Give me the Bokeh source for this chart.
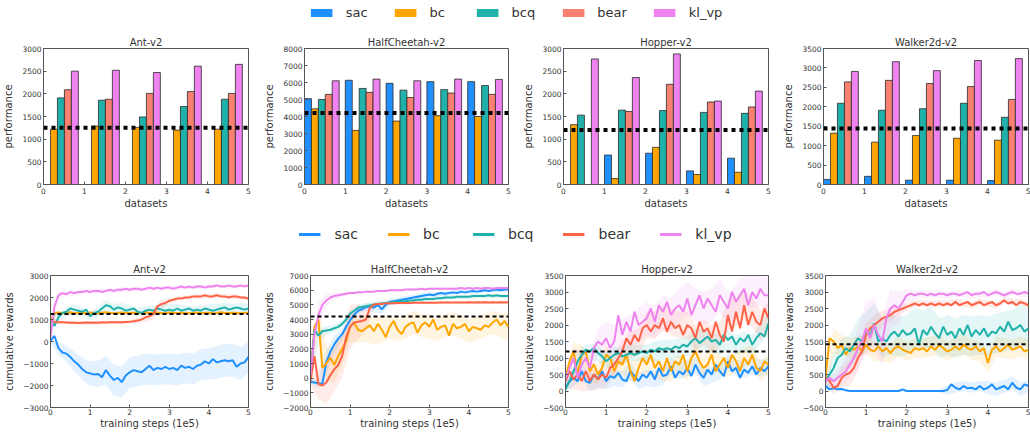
from bokeh.plotting import figure
from bokeh.models import Range1d, FixedTicker, Span, Legend, LegendItem
from bokeh.layouts import column, row
from bokeh.embed import file_html
from bokeh.resources import INLINE

FONT = "DejaVu Sans"
TXT = "#333333"
EDGE = "#555555"

methods = ["sac", "bc", "bcq", "bear", "kl_vp"]
bar_colors = ["#1E90FF", "#FFA500", "#20B2AA", "#FA8072", "#EE82EE"]
line_colors = ["#1E90FF", "#FFA500", "#20B2AA", "#FF6347", "#EE82EE"]
envs = ["Ant-v2", "HalfCheetah-v2", "Hopper-v2", "Walker2d-v2"]

# ---------------- bar charts (performance per dataset) ----------------
dataset_ids = [0, 1, 2, 3, 4]
x_ticks = [0, 1, 2, 3, 4, 5]

ant_bars = [[-800, -1000, -900, -1100, -700],
            [1220, 1290, 1260, 1200, 1220],
            [1910, 1860, 1490, 1720, 1880],
            [2090, 1880, 2010, 2050, 2010],
            [2500, 2520, 2470, 2610, 2650]]
hc_bars = [[5050, 6130, 5950, 6050, 6050],
           [4450, 3180, 3730, 4050, 4000],
           [5000, 5650, 5550, 5580, 5820],
           [5300, 5420, 5120, 5380, 5300],
           [6100, 6200, 6100, 6200, 6180]]
hop_bars = [[0, 650, 690, 300, 580],
            [1320, 130, 820, 220, 270],
            [1530, 1640, 1630, 1590, 1570],
            [0, 1610, 2210, 1820, 1710],
            [2770, 2360, 2880, 1840, 2060]]
wk_bars = [[130, 210, 110, 110, 100],
           [1320, 1090, 1260, 1190, 1140],
           [2090, 1910, 1950, 2090, 1730],
           [2640, 2680, 2600, 2520, 2190],
           [2910, 3160, 2930, 3190, 3240]]

bar_baselines = [1250, 4200, 1200, 1440]
bar_yranges = [(0, 3000), (0, 8000), (0, 3000), (0, 3500)]
bar_yticks_ant = [0, 500, 1000, 1500, 2000, 2500, 3000]
bar_yticks_hc = [0, 1000, 2000, 3000, 4000, 5000, 6000, 7000, 8000]
bar_yticks_hop = [0, 500, 1000, 1500, 2000, 2500, 3000]
bar_yticks_wk = [0, 500, 1000, 1500, 2000, 2500, 3000, 3500]

# ---------------- learning curves ----------------
steps = [i / 10 for i in range(51)]  # training steps (1e5)

ant_sac = [50, 250, -300, -500, -550, -700, -900, -1050, -1250, -1400,
           -1450, -1500, -1480, -1620, -1300, -1550, -1750, -1650, -1850, -1550,
           -1400, -1300, -1350, -1400, -1250, -1100, -1300, -1200, -1250, -1150,
           -1250, -1200, -1300, -1100, -1200, -1150, -1250, -1100, -1050, -900,
           -1000, -800, -950, -900, -850, -900, -850, -1150, -1000, -950, -700]
ant_bc = [900, 1300, 1320, 1280, 1300, 1330, 1290, 1310, 1300, 1280,
          1320, 1300, 1290, 1310, 1330, 1300, 1280, 1300, 1320, 1290,
          1300, 1310, 1280, 1300, 1330, 1300, 1290, 1310, 1300, 1280,
          1320, 1300, 1290, 1310, 1300, 1280, 1300, 1320, 1290, 1300,
          1310, 1280, 1300, 1330, 1300, 1290, 1310, 1300, 1280, 1300, 1310]
ant_bcq = [1000, 700, 1100, 1300, 1350, 1500, 1450, 1400, 1350, 1450,
           1150, 1300, 1350, 1500, 1650, 1600, 1450, 1550, 1500, 1400,
           1450, 1500, 1350, 1300, 1400, 1450, 1400, 1500, 1450, 1400,
           1450, 1400, 1500, 1400, 1450, 1500, 1400, 1450, 1400, 1500,
           1450, 1400, 1450, 1500, 1550, 1450, 1500, 1550, 1500, 1450, 1500]
ant_bear = [950, 900, 880, 870, 860, 850, 850, 840, 850, 860,
            850, 860, 850, 870, 860, 870, 880, 870, 880, 890,
            900, 920, 950, 1000, 1100, 1150, 1250, 1600, 1700, 1750,
            1850, 1900, 1950, 1950, 2000, 2000, 2050, 2050, 2050, 2100,
            2050, 2050, 2100, 2050, 2050, 2000, 2050, 2050, 2000, 2000, 1950]
ant_kl = [200, 1600, 2100, 2200, 2150, 2250, 2200, 2250, 2250, 2300,
          2250, 2300, 2300, 2250, 2300, 2350, 2300, 2350, 2350, 2400,
          2350, 2400, 2400, 2350, 2400, 2450, 2400, 2450, 2400, 2450,
          2450, 2400, 2450, 2500, 2450, 2500, 2450, 2500, 2500, 2450,
          2500, 2500, 2550, 2500, 2500, 2550, 2500, 2500, 2550, 2500, 2550]

hc_sac = [-250, -300, -350, -400, 1100, 1800, 2300, 2700, 3000, 3500,
          3950, 4300, 4600, 4700, 4850, 4900, 4800, 5000, 4700, 5000,
          5200, 5250, 5300, 5350, 5400, 5450, 5500, 5550, 5600, 5650,
          5700, 5650, 5750, 5800, 5750, 5800, 5850, 5800, 5900, 5850,
          5900, 5950, 5900, 5950, 6000, 5950, 6000, 6050, 6000, 6050, 6050]
hc_bc = [0, 3500, 4000, 700, 1000, 1400, 900, 1500, 2000, 2500,
         3500, 3800, 3300, 3200, 3400, 3600, 3200, 3700, 3300, 2800,
         3500, 3900, 3300, 3000, 3500, 3700, 3800, 3100, 3600, 3800,
         3500, 4000, 3300, 3500, 3600, 2900, 3700, 3400, 3500, 3700,
         3200, 3500, 3400, 3300, 3600, 3500, 3800, 4000, 3600, 3900, 3500]
hc_bcq = [0, 3300, 2900, 3200, 3250, 3300, 3400, 3500, 3700, 4000,
          4400, 4600, 4800, 4850, 4900, 4950, 5000, 5050, 5100, 5100,
          5150, 5200, 5200, 5250, 5250, 5300, 5300, 5350, 5350, 5400,
          5400, 5400, 5450, 5450, 5500, 5500, 5500, 5550, 5550, 5550,
          5550, 5600, 5600, 5600, 5600, 5650, 5600, 5650, 5600, 5600, 5600]
hc_bear = [-200, 1500, -400, -500, -300, 200, 600, 900, 1500, 2800,
           3500, 3800, 3850, 3900, 4000, 4800, 5000, 5050, 5050, 5100,
           5100, 5100, 5120, 5120, 5130, 5130, 5150, 5150, 5150, 5150,
           5150, 5150, 5150, 5160, 5160, 5160, 5160, 5160, 5160, 5160,
           5170, 5160, 5170, 5160, 5170, 5160, 5170, 5160, 5170, 5160, 5170]
hc_kl = [200, 3000, 4300, 5000, 5300, 5500, 5600, 5650, 5700, 5750,
         5800, 5800, 5850, 5850, 5900, 5900, 5900, 5950, 5950, 5950,
         6000, 6000, 6000, 6000, 6050, 6050, 6050, 6050, 6100, 6050,
         6100, 6100, 6100, 6100, 6100, 6100, 6100, 6100, 6150, 6100,
         6150, 6100, 6150, 6100, 6150, 6150, 6100, 6150, 6150, 6150, 6150]

hop_sac = [100, 300, 400, 300, 600, 300, 250, 500, 350, 600,
           300, 450, 400, 550, 350, 300, 600, 450, 300, 500,
           400, 600, 350, 700, 450, 500, 750, 400, 600, 500,
           700, 450, 800, 550, 400, 650, 500, 800, 600, 450,
           900, 600, 700, 400, 650, 550, 750, 500, 700, 600, 750]
hop_bc = [400, 900, 1200, 500, 1100, 1200, 600, 800, 500, 700,
          1100, 1000, 600, 900, 800, 1100, 600, 300, 700, 1000,
          800, 1100, 700, 900, 600, 1000, 600, 900, 800, 1100,
          600, 1000, 1200, 900, 700, 800, 1100, 600, 800, 1000,
          700, 1100, 900, 600, 1000, 800, 1100, 700, 600, 900, 800]
hop_bcq = [50, 300, 600, 900, 1100, 1250, 1200, 1300, 1150, 1050,
           900, 1000, 1100, 1150, 1050, 1100, 1150, 1100, 1150, 1200,
           1150, 1250, 1200, 1300, 1250, 1300, 1250, 1350, 1300, 1400,
           1350, 1500, 1600, 1450, 1550, 1650, 1500, 1550, 1400, 1700,
           1550, 1650, 1400, 1600, 1500, 1700, 1400, 1600, 1750, 1650, 2050]
hop_bear = [300, 600, 350, 500, 300, 600, 300, 500, 350, 500,
            400, 700, 800, 1000, 1200, 1600, 1400, 1700, 1500, 1900,
            2000, 1800, 2000, 1900, 2200, 1800, 2100, 1900, 2000, 1700,
            2000, 1900, 1600, 2100, 1800, 1900, 1600, 2100, 1700, 1500,
            2300, 1800, 2400, 1900, 2600, 2000, 2400, 2100, 2000, 2500, 2200]
hop_kl = [370, 700, 1000, 400, 800, 1000, 700, 1300, 1500, 1400,
          1600, 1300, 1500, 2300, 1700, 2100, 1800, 2400, 2000, 2100,
          2200, 2500, 2100, 2600, 2400, 2700, 2300, 2500, 2600, 2400,
          2800, 2300, 2600, 2900, 2500, 2800, 2600, 2400, 2900, 2700,
          2500, 3000, 2700, 2900, 3100, 2600, 3000, 2800, 3100, 2900, 2900]

wk_sac = [150, 50, 80, 50, 60, 20, 0, 0, 0, 0,
          0, 0, 0, 0, 0, 0, 0, 0, 0, 50,
          0, 0, 0, 0, 0, 0, 0, 0, 0, 0,
          30, 200, 100, 50, 150, 80, 100, 50, 150, 50,
          100, 200, 50, 100, 150, 50, 250, 100, 50, 200, 150]
wk_bc = [400, 1600, 1500, 1300, 1400, 1100, 1300, 1250, 1350, 1200,
         1400, 1250, 1200, 1350, 1200, 1300, 1150, 1300, 1350, 1250,
         1200, 1150, 1300, 1250, 1300, 1200, 1350, 1250, 1400, 1300,
         1200, 1250, 1350, 1250, 1400, 1300, 1250, 1350, 1200, 1300,
         850, 1250, 1350, 1200, 1300, 1400, 1250, 1300, 1350, 1200, 1250]
wk_bcq = [300, 500, 700, 1000, 1100, 1300, 1200, 1400, 1600, 1500,
          1800, 1700, 2050, 1500, 1600, 1500, 1700, 1800, 1650, 1850,
          1700, 1750, 1900, 1400, 1850, 1700, 1950, 1750, 1600, 1950,
          1700, 1800, 1600, 1900, 1700, 2000, 1650, 1850, 1700, 1900,
          1650, 1800, 1750, 1950, 1800, 2100, 1850, 1900, 2000, 1800, 1900]
wk_bear = [400, 300, 100, 150, 400, 500, 550, 700, 1000, 1200,
           1700, 1900, 2000, 2100, 2200, 2250, 2300, 2400, 2450, 2500,
           2550, 2600, 2650, 2600, 2650, 2600, 2650, 2600, 2650, 2600,
           2650, 2600, 2700, 2600, 2650, 2700, 2600, 2650, 2700, 2600,
           2650, 2700, 2600, 2650, 2750, 2650, 2700, 2600, 2700, 2650, 2600]
wk_kl = [300, 400, 300, 400, 500, 600, 800, 1000, 1300, 1500,
         1900, 1600, 2000, 1700, 1500, 2200, 2500, 2600, 2500, 2700,
         2900, 2950, 2900, 2950, 2950, 2900, 2950, 2900, 2950, 2950,
         2900, 2950, 2950, 2900, 2950, 3000, 2900, 2950, 2950, 3000,
         2900, 2950, 3000, 2950, 2900, 2950, 3000, 2950, 2950, 3000, 2950]

# half-widths of the shaded bands, every 0.2e5 steps
ant_band = [
    [80, 300, 350, 450, 500, 550, 600, 650, 700, 700, 700, 700, 700, 700, 700, 700, 700, 700, 700, 700, 700, 750, 750, 750, 750, 700],
    [200, 80, 60, 60, 60, 60, 60, 60, 60, 60, 60, 60, 60, 60, 60, 60, 60, 60, 60, 60, 60, 60, 60, 60, 60, 60],
    [200, 200, 200, 250, 200, 200, 200, 250, 250, 250, 200, 200, 200, 250, 250, 250, 200, 200, 200, 200, 250, 250, 200, 200, 250, 200],
    [150, 100, 80, 80, 80, 80, 80, 80, 80, 80, 80, 100, 200, 250, 200, 120, 100, 100, 100, 100, 100, 100, 100, 100, 100, 100],
    [300, 150, 120, 100, 100, 100, 100, 100, 100, 100, 100, 100, 100, 100, 100, 100, 100, 80, 80, 80, 80, 80, 80, 80, 80, 80]]
hc_band = [
    [150, 300, 800, 600, 400, 300, 250, 250, 300, 300, 250, 200, 200, 200, 200, 150, 150, 150, 150, 150, 150, 150, 150, 150, 150, 150],
    [300, 900, 1200, 1200, 1100, 1000, 900, 900, 900, 900, 800, 800, 800, 800, 800, 800, 800, 800, 800, 800, 800, 800, 800, 800, 800, 1000],
    [200, 400, 300, 250, 250, 200, 200, 200, 200, 200, 150, 150, 150, 150, 150, 150, 150, 150, 150, 150, 150, 150, 150, 150, 150, 150],
    [300, 1000, 1500, 1500, 1500, 1500, 1200, 800, 150, 120, 100, 100, 100, 100, 100, 100, 100, 100, 100, 100, 100, 100, 100, 100, 100, 100],
    [300, 900, 400, 200, 150, 100, 100, 100, 100, 80, 80, 80, 80, 80, 80, 80, 80, 80, 80, 80, 80, 80, 80, 80, 80, 80]]
hop_band = [
    [150, 250, 250, 250, 250, 250, 250, 250, 250, 250, 250, 250, 250, 250, 250, 250, 250, 250, 250, 250, 250, 250, 250, 250, 250, 250],
    [250, 300, 300, 300, 300, 300, 300, 300, 300, 300, 300, 300, 300, 300, 300, 300, 300, 300, 300, 300, 300, 300, 300, 300, 300, 300],
    [100, 200, 250, 250, 250, 250, 250, 250, 250, 250, 250, 300, 300, 300, 300, 300, 300, 300, 300, 300, 300, 300, 300, 300, 300, 400],
    [200, 300, 300, 300, 300, 300, 300, 350, 400, 400, 400, 400, 400, 400, 400, 400, 400, 400, 400, 400, 450, 450, 450, 450, 450, 500],
    [200, 300, 400, 400, 400, 500, 500, 500, 500, 500, 500, 500, 500, 500, 500, 500, 500, 500, 500, 500, 500, 500, 500, 500, 500, 500]]
wk_band = [
    [100, 50, 30, 30, 30, 30, 30, 30, 30, 30, 30, 30, 30, 30, 30, 150, 150, 150, 150, 150, 200, 200, 200, 200, 200, 200],
    [300, 400, 300, 300, 300, 300, 300, 300, 300, 300, 300, 300, 300, 300, 300, 300, 300, 300, 300, 300, 300, 300, 300, 300, 300, 300],
    [200, 400, 500, 500, 600, 600, 600, 600, 600, 600, 600, 600, 600, 600, 600, 600, 600, 600, 600, 600, 600, 600, 600, 600, 600, 600],
    [150, 200, 300, 400, 400, 350, 300, 250, 200, 150, 120, 100, 100, 100, 100, 100, 100, 100, 100, 100, 100, 100, 100, 100, 100, 100],
    [150, 200, 300, 400, 600, 800, 800, 700, 600, 500, 200, 150, 120, 100, 100, 100, 100, 100, 100, 100, 100, 100, 100, 100, 100, 100]]

curve_baselines = [1250, 4200, 1200, 1420]
curve_yranges = [(-3000, 3000), (-2000, 7000), (-500, 3500), (-500, 3500)]
curve_yticks_ant = [-3000, -2000, -1000, 0, 1000, 2000, 3000]
curve_yticks_hc = [-2000, -1000, 0, 1000, 2000, 3000, 4000, 5000, 6000, 7000]
curve_yticks_hop = [-500, 0, 500, 1000, 1500, 2000, 2500, 3000, 3500]
curve_yticks_wk = [-500, 0, 500, 1000, 1500, 2000, 2500, 3000, 3500]

BAR_W = 0.17


def labels_for(ticks):
    return {t: (("\u2212" + str(-t)) if t < 0 else str(t)) for t in ticks}


def style(p, yticks, xlabel, ylabel, x_lab_stand, x_ax_stand):
    p.title.text_font = FONT
    p.title.text_font_size = "10px"
    p.title.text_font_style = "normal"
    p.title.text_color = TXT
    p.title.align = "center"
    p.title.standoff = 2
    p.outline_line_color = EDGE
    p.outline_line_width = 1
    p.xgrid.visible = False
    p.ygrid.visible = False
    p.background_fill_color = "white"
    p.border_fill_color = "white"
    p.xaxis.ticker = FixedTicker(ticks=x_ticks)
    p.yaxis.ticker = FixedTicker(ticks=yticks)
    p.yaxis.major_label_overrides = labels_for(yticks)
    p.xaxis.axis_label = xlabel
    p.yaxis.axis_label = ylabel
    for ax in (p.xaxis[0], p.yaxis[0]):
        ax.axis_line_color = EDGE
        ax.major_tick_line_color = EDGE
        ax.major_tick_in = 3
        ax.major_tick_out = 0
        ax.minor_tick_line_color = None
        ax.major_label_text_font = FONT
        ax.major_label_text_font_size = "7.5px"
        ax.major_label_text_color = TXT
        ax.axis_label_text_font = FONT
        ax.axis_label_text_font_size = "10px"
        ax.axis_label_text_font_style = "normal"
        ax.axis_label_text_color = TXT
    p.xaxis.major_label_standoff = x_lab_stand
    p.xaxis.axis_label_standoff = x_ax_stand
    p.yaxis.major_label_standoff = 2
    p.yaxis.axis_label_standoff = 5


def new_fig(title, w, h, bl, br, bt, bb, yr):
    return figure(width=w, height=h, title=title, x_range=Range1d(0, 5), y_range=Range1d(*yr),
                  toolbar_location=None, output_backend="svg",
                  min_border_left=bl, min_border_right=br, min_border_top=bt, min_border_bottom=bb)


# column geometry (figure width, left border, right border)
top_geom = [(258, 43, 10), (260, 46, 10), (260, 45, 10), (252, 45, 2)]
bot_geom = [(258, 50, 10), (260, 52, 10), (260, 47, 10), (252, 47, 2)]

bar_sets = [ant_bars, hc_bars, hop_bars, wk_bars]
bar_ticks = [bar_yticks_ant, bar_yticks_hc, bar_yticks_hop, bar_yticks_wk]
top_figs = []
for i, env in enumerate(envs):
    w, bl, br = top_geom[i]
    p = new_fig(env, w, 188, bl, br, 24, 28, bar_yranges[i])
    style(p, bar_ticks[i], "datasets", "performance", 3, 1)
    for k, m in enumerate(methods):
        xs = [d + BAR_W * k + BAR_W / 2 for d in dataset_ids]
        p.vbar(x=xs, top=bar_sets[i][k], bottom=0, width=BAR_W, fill_color=bar_colors[k],
               line_color="#2b2b2b", line_width=0.8)
    p.add_layout(Span(location=bar_baselines[i], dimension="width", line_color="black",
                      line_width=4, line_dash="4 4"))
    top_figs.append(p)

curve_sets = [[ant_sac, ant_bc, ant_bcq, ant_bear, ant_kl],
              [hc_sac, hc_bc, hc_bcq, hc_bear, hc_kl],
              [hop_sac, hop_bc, hop_bcq, hop_bear, hop_kl],
              [wk_sac, wk_bc, wk_bcq, wk_bear, wk_kl]]
band_sets = [ant_band, hc_band, hop_band, wk_band]
curve_ticks = [curve_yticks_ant, curve_yticks_hc, curve_yticks_hop, curve_yticks_wk]
bot_figs = []
for i, env in enumerate(envs):
    w, bl, br = bot_geom[i]
    p = new_fig(env, w, 177, bl, br, 19, 26, curve_yranges[i])
    style(p, curve_ticks[i], "training steps (1e5)", "cumulative rewards", 1, 0)
    for k, m in enumerate(methods):
        ys = curve_sets[i][k]
        hw = band_sets[i][k]
        bx = steps[::2]
        bm = ys[::2]
        n = min(len(bx), len(bm), len(hw))
        p.varea(x=bx[:n], y1=[bm[j] - hw[j] for j in range(n)], y2=[bm[j] + hw[j] for j in range(n)],
                fill_color=line_colors[k], fill_alpha=0.12)
    for k, m in enumerate(methods):
        p.line(x=steps, y=curve_sets[i][k], line_color=line_colors[k], line_width=2)
    p.add_layout(Span(location=curve_baselines[i], dimension="width", line_color="black",
                      line_width=2, line_dash="4 3"))
    bot_figs.append(p)


def legend_fig(kind, h, font_size, spacing, standoff):
    # legend-only strip: renderers carry the chart data but are hidden; only their legend entries show
    p = figure(width=1030, height=h, title=None, x_range=Range1d(0, 5), y_range=Range1d(0, 8000),
               x_axis_type=None, y_axis_type=None, toolbar_location=None, output_backend="svg",
               min_border=0, outline_line_color=None)
    p.xgrid.visible = False
    p.ygrid.visible = False
    items = []
    for k, m in enumerate(methods):
        if kind == "bar":
            r = p.vbar(x=dataset_ids, top=wk_bars[k], bottom=0, width=BAR_W,
                       fill_color=bar_colors[k], line_color=None)
        else:
            r = p.line(x=steps, y=curve_sets[3][k], line_color=line_colors[k], line_width=3)
        r.visible = False
        items.append(LegendItem(label=m, renderers=[r]))
    leg = Legend(items=items, orientation="horizontal", location="center",
                 border_line_color=None, background_fill_alpha=0,
                 inactive_fill_alpha=0,
                 label_text_font=FONT, label_text_font_size=font_size, label_text_color=TXT,
                 glyph_width=27 if kind == "bar" else 22, glyph_height=10 if kind == "bar" else 14,
                 spacing=spacing, label_standoff=standoff, padding=0, margin=0)
    p.add_layout(leg, "center")
    return p


leg_top = legend_fig("bar", 24, "13px", 24, 11)
leg_bot = legend_fig("line", 44, "14px", 29, 14)

layout = column(leg_top, row(*top_figs), leg_bot, row(*bot_figs))
open("out.html", "w").write(file_html(layout, INLINE))
